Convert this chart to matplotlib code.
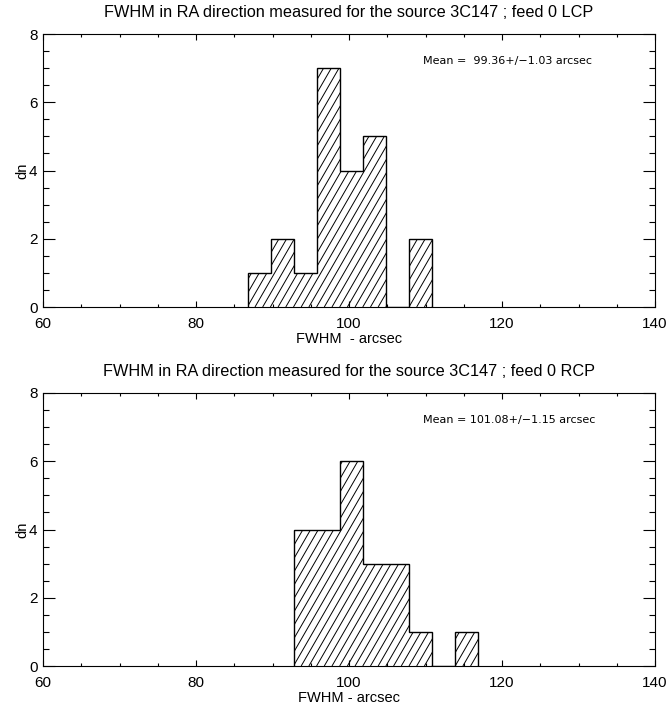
import numpy as np
import matplotlib
matplotlib.use("Agg")
import matplotlib.pyplot as plt
from matplotlib.collections import LineCollection
from matplotlib.ticker import MultipleLocator

# ---------------- data ----------------
bin_width = 3.0
lcp_start = 86.8
lcp_counts = [1, 2, 1, 7, 4, 5, 0, 2]
rcp_start = 92.8
rcp_counts = [4, 4, 6, 3, 3, 1, 0, 1]
titles = ["FWHM in RA direction measured for the source 3C147 ; feed 0 LCP",
          "FWHM in RA direction measured for the source 3C147 ; feed 0 RCP"]
mean_texts = ["Mean =  99.36+/\u22121.03 arcsec",
              "Mean = 101.08+/\u22121.15 arcsec"]
xlabels = ["FWHM  - arcsec", "FWHM - arcsec"]
ylabel = "dn"
xlim = (60, 140)
ylim = (0, 8)

font = "Liberation Sans"

W, H = 667, 715
fig = plt.figure(figsize=(W / 100, H / 100), dpi=100)

ax_left, ax_w, ax_h = 43 / W, 612 / W, 273 / H
bottoms = [1 - 307 / H, 1 - 666 / H]


def hatch_clip(ax, patch, spacing_px=7.7, angle_deg=60):
    pos = ax.get_position()
    wpx = pos.width * W
    hpx = pos.height * H
    dx = hpx / np.tan(np.radians(angle_deg))
    starts = np.arange(-dx - spacing_px, wpx + spacing_px, spacing_px)
    segs = [[(s / wpx, 0.0), ((s + dx) / wpx, 1.0)] for s in starts]
    lc = LineCollection(segs, colors="black", linewidths=0.7,
                        transform=ax.transAxes)
    ax.add_collection(lc)
    lc.set_clip_path(patch)


datasets = [(lcp_start, lcp_counts), (rcp_start, rcp_counts)]
for i, (start, counts) in enumerate(datasets):
    ax = fig.add_axes([ax_left, bottoms[i], ax_w, ax_h])
    edges = start + bin_width * np.arange(len(counts) + 1)
    clip = ax.stairs(counts, edges, baseline=0, fill=True,
                     facecolor="none", edgecolor="none")
    hatch_clip(ax, clip)
    ax.stairs(counts, edges, baseline=0, fill=False,
              color="black", linewidth=1.0)
    ax.set_xlim(*xlim)
    ax.set_ylim(*ylim)
    ax.xaxis.set_major_locator(MultipleLocator(20))
    ax.xaxis.set_minor_locator(MultipleLocator(5))
    ax.yaxis.set_major_locator(MultipleLocator(2))
    ax.yaxis.set_minor_locator(MultipleLocator(0.5))
    ax.tick_params(axis="x", which="major", direction="in", length=4.0,
                   width=0.8, top=True, pad=7, labelsize=11)
    ax.tick_params(axis="x", which="minor", direction="in", length=2.0,
                   width=0.8, top=True)
    ax.tick_params(axis="y", which="major", direction="in", length=8.5,
                   width=0.8, right=True, pad=4, labelsize=11)
    ax.tick_params(axis="y", which="minor", direction="in", length=4.3,
                   width=0.8, right=True)
    for lab in ax.get_xticklabels() + ax.get_yticklabels():
        lab.set_family(font)
    for sp in ax.spines.values():
        sp.set_linewidth(0.8)
    ax.set_title(titles[i], family=font, fontsize=11.7, pad=12)
    ax.set_xlabel(xlabels[i], family=font, fontsize=10.5, labelpad=1)
    ax.set_ylabel(ylabel, family=font, fontsize=10.5, labelpad=0)
    ax.text(109.7, 7.2, mean_texts[i], fontsize=8, family="DejaVu Sans",
            va="center", ha="left")

fig.savefig("out.png", dpi=100)
